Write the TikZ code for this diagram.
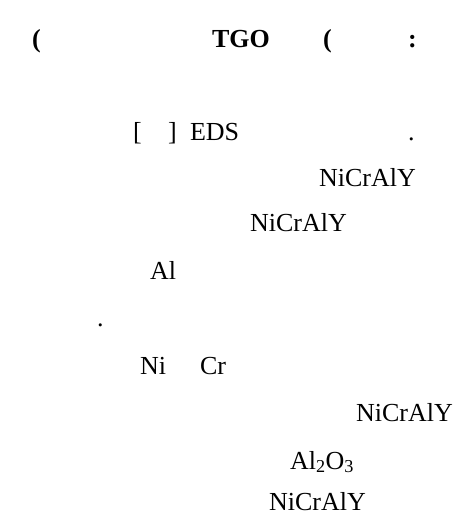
\documentclass[tikz,border=0pt]{standalone}
\usepackage{fontspec}
\setmainfont{Liberation Serif}
\begin{document}
\begin{tikzpicture}[x=1pt,y=-1pt,
  txt/.style={anchor=base west,inner sep=0pt,outer sep=0pt,font=\fontsize{26}{30}\selectfont},
  btxt/.style={txt,font=\fontsize{26}{30}\selectfont\bfseries}]
\useasboundingbox (0,0) rectangle (466,517);
\node[btxt] (p1) at (32,47) {(};
\node[btxt] (tgo) at (212,47) {TGO};
\node[btxt] (p2) at (323,47) {(};
\node[btxt] (colon) at (408,47) {:};
\node[txt] (lb) at (133,140) {[};
\node[txt] (rb) at (168,140) {]};
\node[txt] (eds) at (190,140) {EDS};
\node[txt] (dot1) at (408,140) {.};
\node[txt] (n1) at (319,186) {NiCrAlY};
\node[txt] (n2) at (250,231) {NiCrAlY};
\node[txt] (al) at (150,279) {Al};
\node[txt] (dot2) at (97,326) {.};
\node[txt] (ni) at (140,374) {Ni};
\node[txt] (cr) at (200,374) {Cr};
\node[txt] (n3) at (356,421) {NiCrAlY};
\node[txt] (alo) at (290,469) {Al\textsubscript{2}O\textsubscript{3}};
\node[txt] (n4) at (269,510) {NiCrAlY};
\end{tikzpicture}
\end{document}
